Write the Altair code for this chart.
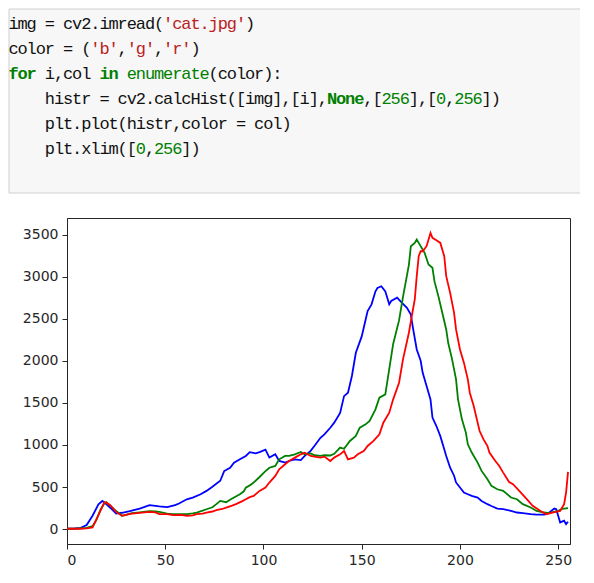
import altair as alt
import pandas as pd

# ---------------- data: histogram counts ----------------
BLUE_BIN = [0, 4, 7, 10, 13, 16, 18, 19, 22, 25, 28, 32, 37, 42, 47, 51, 55, 57, 61, 64, 68, 71, 74, 78, 80, 83, 85, 88, 91, 93, 96, 98, 101, 103, 106, 108, 111, 113, 116, 119, 121, 124, 126, 129, 131, 134, 136, 139, 141, 143, 145, 147, 150, 152, 153, 155, 157, 158, 160, 162, 164, 165, 168, 170, 173, 175, 176, 178, 180, 181, 183, 185, 186, 188, 190, 192, 193, 195, 197, 198, 200, 202, 204, 206, 209, 211, 214, 216, 219, 222, 226, 229, 232, 236, 239, 243, 245, 248, 249, 251, 253, 254, 255]
BLUE_CNT = [5, 8, 15, 50, 160, 295, 335, 318, 255, 185, 195, 215, 245, 285, 270, 262, 285, 305, 355, 375, 415, 455, 505, 575, 690, 730, 790, 830, 870, 915, 900, 915, 945, 850, 890, 810, 790, 810, 830, 820, 870, 930, 990, 1085, 1125, 1205, 1265, 1380, 1580, 1620, 1820, 2095, 2290, 2490, 2590, 2670, 2825, 2865, 2885, 2825, 2670, 2710, 2750, 2700, 2630, 2550, 2400, 2135, 2000, 1860, 1700, 1540, 1325, 1225, 1105, 950, 870, 730, 635, 555, 495, 435, 415, 395, 375, 335, 297, 275, 245, 237, 217, 198, 190, 178, 174, 174, 190, 245, 237, 80, 100, 60, 88]

GREEN_BIN = [0, 6, 10, 13, 15, 17, 19, 20, 22, 25, 28, 30, 33, 37, 42, 45, 47, 51, 54, 58, 61, 64, 66, 69, 71, 74, 76, 78, 81, 83, 85, 88, 90, 91, 93, 95, 98, 101, 103, 106, 108, 111, 113, 116, 119, 121, 124, 126, 129, 131, 134, 136, 139, 141, 144, 147, 149, 152, 154, 157, 159, 162, 164, 166, 169, 171, 174, 175, 177, 178, 179, 181, 182, 184, 186, 187, 189, 191, 193, 194, 196, 198, 199, 201, 203, 204, 206, 209, 211, 214, 216, 219, 222, 226, 229, 232, 236, 239, 243, 245, 248, 250, 252, 255]
GREEN_CNT = [5, 8, 15, 35, 110, 230, 305, 320, 280, 215, 160, 170, 190, 200, 215, 210, 205, 185, 178, 180, 178, 188, 198, 220, 237, 260, 297, 336, 320, 350, 376, 415, 450, 494, 520, 554, 620, 690, 730, 751, 830, 870, 870, 889, 917, 889, 901, 878, 870, 878, 875, 895, 969, 955, 1048, 1107, 1206, 1245, 1285, 1423, 1562, 1601, 1900, 2200, 2480, 2760, 3140, 3360, 3400, 3440, 3400, 3321, 3282, 3143, 3104, 2946, 2768, 2570, 2372, 2214, 2017, 1779, 1542, 1305, 1147, 1008, 910, 791, 692, 593, 514, 474, 455, 376, 356, 297, 257, 217, 198, 190, 206, 217, 240, 250]

RED_BIN = [0, 6, 10, 13, 15, 17, 19, 20, 22, 25, 28, 30, 32, 37, 42, 45, 47, 51, 54, 58, 61, 64, 66, 69, 71, 74, 76, 79, 81, 84, 86, 89, 91, 93, 95, 98, 101, 103, 106, 108, 111, 113, 116, 119, 121, 124, 126, 129, 131, 134, 136, 139, 141, 143, 146, 148, 151, 153, 156, 159, 161, 164, 166, 169, 171, 174, 176, 177, 178, 179, 180, 181, 183, 185, 186, 188, 190, 192, 193, 195, 197, 198, 200, 202, 204, 205, 207, 209, 210, 212, 214, 215, 218, 220, 222, 225, 227, 231, 234, 237, 241, 244, 247, 251, 253, 254, 255]
RED_CNT = [5, 5, 10, 20, 119, 217, 320, 315, 285, 205, 158, 170, 182, 194, 205, 200, 180, 180, 166, 170, 158, 165, 178, 185, 198, 210, 225, 240, 257, 280, 297, 330, 356, 380, 395, 455, 494, 554, 633, 712, 771, 810, 850, 889, 909, 870, 862, 850, 862, 810, 850, 889, 929, 830, 850, 889, 929, 988, 1048, 1127, 1265, 1384, 1542, 1740, 2017, 2333, 2600, 2728, 3005, 3242, 3301, 3301, 3361, 3519, 3460, 3432, 3400, 3242, 3005, 2807, 2570, 2372, 2135, 1978, 1779, 1621, 1463, 1265, 1166, 1067, 988, 910, 810, 751, 672, 560, 534, 435, 356, 277, 217, 178, 198, 217, 297, 435, 680]

X_TICKS = [0, 50, 100, 150, 200, 250]
Y_TICKS = [0, 500, 1000, 1500, 2000, 2500, 3000, 3500]

# ---------------- code cell text (token, style) ----------------
CODE_LINES = [
    [("img = cv2.imread(", "plain"), ("'cat.jpg'", "str"), (")", "plain")],
    [("color = (", "plain"), ("'b'", "str"), (",", "plain"), ("'g'", "str"), (",", "plain"), ("'r'", "str"), (")", "plain")],
    [("for", "kw"), (" i,col ", "plain"), ("in", "kw"), (" ", "plain"), ("enumerate", "builtin"), ("(color):", "plain")],
    [("    histr = cv2.calcHist([img],[i],", "plain"), ("None", "kw"), (",[", "plain"), ("256", "num"), ("],[", "plain"), ("0", "num"), (",", "plain"), ("256", "num"), ("])", "plain")],
    [("    plt.plot(histr,color = col)", "plain")],
    [("    plt.xlim([", "plain"), ("0", "num"), (",", "plain"), ("256", "num"), ("])", "plain")],
]
STYLE_COLOR = {"plain": "#111111", "str": "#ba2121", "kw": "#008000", "builtin": "#008000", "num": "#008000"}

rows = []
for li, toks in enumerate(CODE_LINES, start=1):
    col = 0
    for text, style in toks:
        for ch in text:
            if ch != " ":
                rows.append({"line": li, "col": col, "ch": ch, "style": style})
            col += 1
code_df = pd.DataFrame(rows)

# ---------------- code cell ----------------
code_bg = alt.Chart(pd.DataFrame({"a": [0]})).mark_rect(
    fill="#f7f7f7", stroke="#cfcfcf", strokeWidth=1
).encode(x=alt.value(-58), x2=alt.value(520), y=alt.value(-209), y2=alt.value(-25))

code_x = alt.X("col:Q", scale=alt.Scale(domain=[0, 60], range=[-53.5, -53.5 + 60 * 9.1]), axis=None)
code_y = alt.Y("line:Q", scale=alt.Scale(domain=[1, 6], range=[-194, -69]), axis=None)
code_c = alt.Color("style:N", scale=alt.Scale(domain=list(STYLE_COLOR.keys()), range=list(STYLE_COLOR.values())), legend=None)

code_text = alt.Chart(code_df).transform_filter("datum.style != 'kw'").mark_text(
    font="Liberation Mono", fontSize=17, align="center", baseline="middle"
).encode(x=code_x, y=code_y, text="ch:N", color=code_c)

code_bold = alt.Chart(code_df).transform_filter("datum.style == 'kw'").mark_text(
    font="Liberation Mono", fontSize=17, fontWeight="bold", align="center", baseline="middle"
).encode(x=code_x, y=code_y, text="ch:N", color=code_c)

code = alt.layer(code_bg, code_text, code_bold)

# ---------------- histogram plot ----------------
xs = alt.Scale(domain=[0, 256], nice=False, zero=False)
ys = alt.Scale(domain=[-176, 3696], nice=False, zero=False)
x_axis = alt.Axis(values=X_TICKS, format="d", title=None, grid=False, labelFontSize=14, labelFont="DejaVu Sans",
                  labelColor="#262626", tickColor="#262626", domainColor="#262626", tickSize=5, labelPadding=4)
y_axis = alt.Axis(values=Y_TICKS, format="d", title=None, grid=False, labelFontSize=14, labelFont="DejaVu Sans",
                  labelColor="#262626", tickColor="#262626", domainColor="#262626", tickSize=5, labelPadding=4)


def series(bins, counts, colour):
    df = pd.DataFrame({"bin": bins, "count": counts})
    return alt.Chart(df).mark_line(color=colour, strokeWidth=1.8).encode(
        x=alt.X("bin:Q", scale=xs, axis=x_axis),
        y=alt.Y("count:Q", scale=ys, axis=y_axis),
    )


plot = alt.layer(
    series(BLUE_BIN, BLUE_CNT, "#0000ff"),
    series(GREEN_BIN, GREEN_CNT, "#008000"),
    series(RED_BIN, RED_CNT, "#ff0000"),
)

chart = alt.layer(code, plot).resolve_scale(
    x="independent", y="independent", color="independent"
).properties(
    width=503, height=326,
    padding={"left": 59, "top": 210, "right": 10, "bottom": 30},
    autosize="none",
).configure_view(stroke="#262626", strokeWidth=1)

chart.save("out.html", embed_options={"renderer": "svg", "actions": False})
